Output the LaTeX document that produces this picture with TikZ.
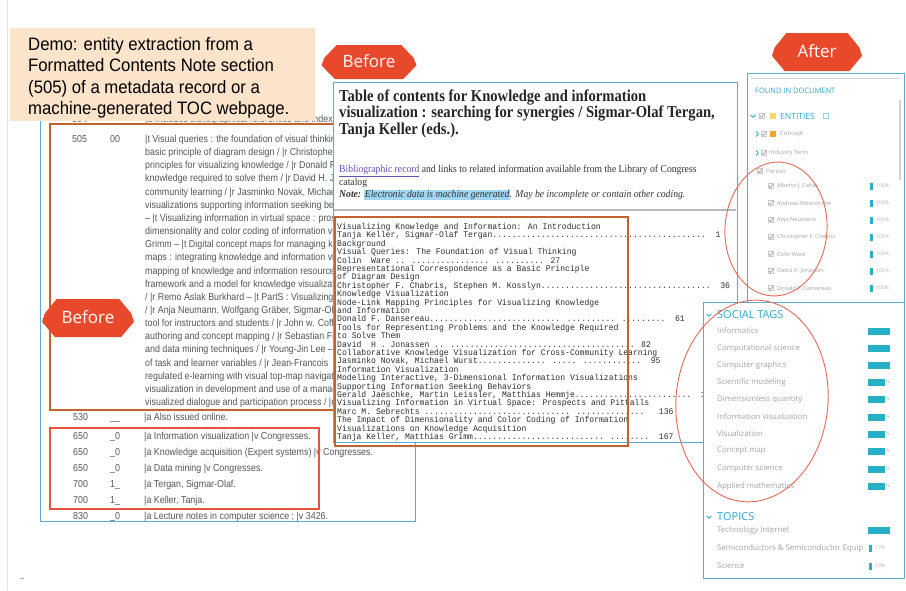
\documentclass[tikz,border=0pt]{standalone}
\usepackage{fontspec}
\usepackage{graphicx}
\setmainfont{Liberation Sans}
\newfontfamily\serifweb{Liberation Serif}
\newfontfamily\monoweb{Liberation Mono}
\newfontfamily\uifont{Open Sans}

\definecolor{frameblue}{HTML}{5AAADB}
\definecolor{boxorange}{HTML}{C8622C}
\definecolor{boxred}{HTML}{E8533F}
\definecolor{ringred}{HTML}{E8675A}
\definecolor{badgefill}{HTML}{E9492B}
\definecolor{notetan}{HTML}{FCE4CB}
\definecolor{marcgray}{HTML}{555555}
\definecolor{hilite}{HTML}{9ED6F2}
\definecolor{linkpurple}{HTML}{6A4DB8}
\definecolor{uiblue}{HTML}{2DA7CF}
\definecolor{uigray}{HTML}{A3A3A3}
\definecolor{barteal}{HTML}{27AFC6}
\definecolor{entyellow}{HTML}{F8D56A}
\definecolor{entorange}{HTML}{F3A22E}

% screenshot text is slightly condensed
\newcommand\narrow[1]{\scalebox{0.88}[1]{#1}}
\newcommand\narrowweb[1]{\scalebox{0.92}[1]{#1}}
\newcommand\narrowmono[1]{\scalebox{0.94}[1]{#1}}
\ExplSyntaxOn
\cs_new:Npn \dotrun #1 { \prg_replicate:nn {#1} {.} }
\ExplSyntaxOff

\begin{document}
\begin{tikzpicture}[x=1pt,y=-1pt,
  marctext/.style={anchor=base west, inner sep=0pt, text=marcgray, font=\fontsize{10.1}{12}\selectfont},
  ttltext/.style={anchor=base west, inner sep=0pt, text=black!85, font=\serifweb\bfseries\fontsize{16.6}{18}\selectfont},
  webtext/.style={anchor=base west, inner sep=0pt, text=black!80, font=\serifweb\fontsize{10.5}{12}\selectfont},
  toctext/.style={anchor=base west, inner sep=0pt, text=black!82, font=\monoweb\fontsize{8.6}{9}\selectfont},
  notetext/.style={anchor=base west, inner sep=0pt, text=black, font=\fontsize{18}{20}\selectfont},
  uihead/.style={anchor=west, inner sep=0pt, text=uiblue, font=\uifont\fontsize{11}{12}\selectfont},
  uismall/.style={anchor=west, inner sep=0pt, text=uiblue, font=\uifont\fontsize{7.5}{9}\selectfont},
  uitag/.style={anchor=west, inner sep=0pt, text=uigray, font=\uifont\fontsize{7.8}{9}\selectfont},
  uiname/.style={anchor=west, inner sep=0pt, text=uigray, font=\uifont\fontsize{5.6}{6}\selectfont},
  uipct/.style={anchor=west, inner sep=0pt, text=uigray!85, font=\uifont\fontsize{5}{6}\selectfont},
  blueframe/.style={draw=frameblue, line width=1pt},
  tealbar/.style={fill=barteal},
  redring/.style={draw=ringred, line width=0.9pt},
  badgetext/.style={inner sep=0pt, text=white, font=\uifont\fontsize{17}{17}\selectfont},
  pics/badgebg/.style 2 args={code={
    \fill[badgefill] ({-0.34*#1},{-0.5*#2}) -- ({0.34*#1},{-0.5*#2}) -- ({0.47*#1},{-0.12*#2})
      -- ({0.5*#1},{0.1*#2}) -- ({0.36*#1},{0.5*#2}) -- ({-0.36*#1},{0.5*#2})
      -- ({-0.5*#1},{0.1*#2}) -- ({-0.47*#1},{-0.12*#2}) -- cycle;}},
  pics/chkbox/.style={code={
    \draw[uigray!60, line width=0.4pt] (-2.4,-2.4) rectangle (2.4,2.4);
    \draw[gray!80, line width=0.6pt] (-1.8,0) -- (-0.5,1.5) -- (2.3,-2.3);}},
  pics/chevdown/.style={code={\draw[uiblue, line width=0.8pt] (-2.5,-1.2) -- (0,1.3) -- (2.5,-1.2);}},
  pics/chevright/.style={code={\draw[uiblue, line width=0.8pt] (-1,-2.5) -- (1.4,0) -- (-1,2.5);}}
]
\useasboundingbox (0,0) rectangle (906,590);
\fill[white] (0,0) rectangle (906,590);
\draw[gray!22, line width=0.8pt] (7,0) -- (7,590);
\draw[gray!70, line width=0.6pt] (20,578) -- (24,578);

% ---------- MARC record ----------
\node[marctext] (tag504) at (72,122.5) {\narrow{504}};
\node[marctext] (txt504) at (145,122.5) {\narrow{|a Includes bibliographical references and index.}};
\node[marctext] (tag505) at (72,142.5) {\narrow{505}};
\node[marctext] (ind505) at (110,142.5) {\narrow{00}};
\foreach \txt [count=\i] in {
  {|t Visual queries : the foundation of visual thinking / |r Colin Ware},
  {basic principle of diagram design / |r Christopher F. Chabris},
  {principles for visualizing knowledge / |r Donald F. Dansereau},
  {knowledge required to solve them / |r David H. Jonassen},
  {community learning / |r Jasminko Novak, Michael Wurst},
  {visualizations supporting information seeking behaviors},
  {-- |t Visualizing information in virtual space : prospects},
  {dimensionality and color coding of information visualizations},
  {Grimm -- |t Digital concept maps for managing knowledge},
  {maps : integrating knowledge and information visualization},
  {mapping of knowledge and information resources},
  {framework and a model for knowledge visualization},
  {/ |r Remo Aslak Burkhard -- |t PartS : Visualizing ideas},
  {/ |r Anja Neumann, Wolfgang Gräber, Sigmar-Olaf},
  {tool for instructors and students / |r John w. Coffey},
  {authoring and concept mapping / |r Sebastian Fiedler},
  {and data mining techniques / |r Young-Jin Lee --},
  {of task and learner variables / |r Jean-Francois},
  {regulated e-learning with visual top-map navigation},
  {visualization in development and use of a management},
  {visualized dialogue and participation process / |r}}
  \node[marctext] (c\i) at (145,{142.5+13.15*(\i-1)}) {\narrow{\txt}};

\foreach \yy/\tg/\id/\tx [count=\i] in {
  {420.5/530/\_\_/|a Also issued online.},
  {439.5/650/\_0/|a Information visualization |v Congresses.},
  {455.5/650/\_0/|a Knowledge acquisition (Expert systems) |v Congresses.},
  {471/650/\_0/|a Data mining |v Congresses.},
  {487/700/1\_/|a Tergan, Sigmar-Olaf.},
  {503.5/700/1\_/|a Keller, Tanja.},
  {519.5/830/\_0/|a Lecture notes in computer science ; |v 3426.}}
{
  \node[marctext] (rt\i) at (73,\yy) {\narrow{\tg}};
  \node[marctext] (ri\i) at (110,\yy) {\narrow{\id}};
  \node[marctext] (rx\i) at (144,\yy) {\narrow{\tx}};
}

\draw[boxred, line width=1.1pt] (50,428) rectangle (319,509);
\draw[boxorange, line width=1.6pt] (50,124) rectangle (400,410);
\draw[blueframe] (40,112) -- (40,521) -- (415,521) -- (415,300);

% ---------- table of contents web page ----------
\draw[blueframe, fill=white] (333,82) rectangle (737,442);
\node[ttltext] (ttl1) at (339,101) {\narrow{Table of contents for Knowledge and information}};
\node[ttltext] (ttl2) at (339,117.5) {\narrow{visualization : searching for synergies / Sigmar-Olaf Tergan,}};
\node[ttltext] (ttl3) at (339,134) {\narrow{Tanja Keller (eds.).}};
\node[webtext] (bib) at (339,172.5) {\narrowweb{\textcolor{linkpurple}{\underline{Bibliographic record}} and links to related information available from the Library of Congress}};
\node[webtext] (cat) at (339,185) {\narrowweb{catalog}};
\node[webtext] (nte) at (339,197.5) {\narrowweb{\textbf{\textit{Note:}} {\setlength{\fboxsep}{0.5pt}\colorbox{hilite}{\textit{Electronic data is machine generated}}}\textit{. May be incomplete or contain other coding.}}};
\draw[gray!55, line width=1.3pt] (334,210) -- (736,210);

\foreach \txt [count=\i] in {
  {Visualizing Knowledge and Information: An Introduction},
  {Tanja Keller, Sigmar-Olaf Tergan\dotrun{44}~~1},
  {Background},
  {Visual Queries: The Foundation of Visual Thinking},
  {Colin~~Ware .. \dotrun{16} \dotrun{10} 27},
  {Representational Correspondence as a Basic Principle},
  {of Diagram Design},
  {Christopher F. Chabris, Stephen M. Kosslyn\dotrun{35}~~36},
  {Knowledge Visualization},
  {Node-Link Mapping Principles for Visualizing Knowledge},
  {and Information},
  {Donald F. Dansereau\dotrun{27} \dotrun{10} \dotrun{9}~~61},
  {Tools for Representing Problems and the Knowledge Required},
  {to Solve Them},
  {David~~H . Jonassen .. \dotrun{38} 82},
  {Collaborative Knowledge Visualization for Cross-Community Learning},
  {Jasminko Novak, Michael Wurst\dotrun{14} \dotrun{5} \dotrun{12}~~95},
  {Information Visualization},
  {Modeling Interactive, 3-Dimensional Information Visualizations},
  {Supporting Information Seeking Behaviors},
  {Gerald Jaeschke, Martin Leissler, Matthias Hemmje\dotrun{24}~~113},
  {Visualizing Information in Virtual Space: Prospects and Pitfalls},
  {Marc M. Sebrechts \dotrun{30} \dotrun{14}~~~136},
  {The Impact of Dimensionality and Color Coding of Information},
  {Visualizations on Knowledge Acquisition},
  {Tanja Keller, Matthias Grimm\dotrun{27} \dotrun{8}~~167}}
  \node[toctext] (l\i) at (337,{229.5+8.4*(\i-1)}) {\narrowmono{\txt}};
\draw[boxorange, line width=1.6pt] (335,217) rectangle (628,446);

% ---------- found in document panel ----------
\draw[blueframe, fill=white] (747,73) rectangle (904,310);
\draw[gray!30, line width=0.8pt] (751,78) -- (900,78);
\fill[gray!35] (898.5,100) rectangle (901,180);
\node[uismall] (found) at (755,91) {FOUND IN DOCUMENT};
\pic at (753,116) {chevdown};
\pic at (762,116) {chkbox};
\fill[entyellow] (769.5,113) rectangle (775.5,119);
\node[uismall, font=\uifont\fontsize{8.5}{9}\selectfont] (ent) at (780,116) {ENTITIES};
\draw[uiblue!50, line width=0.5pt] (823,113.5) rectangle (828,118.5);
\pic at (757,134) {chevright};
\pic at (764,134) {chkbox};
\fill[entorange] (770,131) rectangle (776,137);
\node[uiname, font=\uifont\fontsize{6}{7}\selectfont] (concept) at (780,134) {Concept};
\pic at (757,153) {chevright};
\pic at (764,153) {chkbox};
\node[uiname, font=\uifont\fontsize{6}{7}\selectfont] (industry) at (769,153) {Industry Term};
\pic at (760,171) {chkbox};
\node[uiname, font=\uifont\fontsize{6}{7}\selectfont] (person) at (766,171) {Person};
\foreach \yy/\nm [count=\i] in {186/Alberto J. Cañas, 203/Andreas Rittershofer, 220/Anja Neumann,
    237/Christopher F. Chabris, 254/Colin Ware, 271/David H. Jonassen, 288/Donald F. Dansereau}
{
  \pic at (771,\yy) {chkbox};
  \node[uiname] (p\i) at (777,\yy) {\nm};
  \fill[tealbar] (870,\yy-3.5) rectangle (873,\yy+3.5);
  \node[uipct] (pp\i) at (876,\yy) {100\%};
}

% ---------- social tags and topics panel ----------
\draw[blueframe, fill=white] (703,302) rectangle (904,578);
\pic at (709,315) {chevdown};
\node[uihead] (social) at (717,315) {SOCIAL TAGS};
\foreach \yy/\tg/\bw [count=\i] in {331/Informatics/22, 348/Computational science/22,
    365/Computer graphics/22, 382/Scientific modeling/17, 399/Dimensionless quantity/17,
    417/Information visualization/17, 434/Visualization/17, 451/Concept map/17,
    469/Computer science/17, 486/Applied mathematics/17}
{
  \node[uitag] (s\i) at (717,\yy) {\tg};
  \fill[tealbar] (868,\yy-3.5) rectangle (868+\bw,\yy+3.5);
}
\foreach \yy [count=\i] in {382,399,417,434,451,469,486}
  \node[uipct] (sp\i) at (885.5,\yy) {\%};
\pic at (709,517) {chevdown};
\node[uihead] (topics) at (717,517) {TOPICS};
\node[uitag] (t1) at (717,530) {Technology Internet};
\fill[tealbar] (868,526.5) rectangle (890,533.5);
\node[uitag] (t2) at (717,548) {Semiconductors \& Semiconductor Equip};
\fill[tealbar] (869,544.5) rectangle (871.5,551.5);
\node[uipct] (tp2) at (875,548) {17\%};
\node[uitag] (t3) at (717,566) {Science};
\fill[tealbar] (869,562.5) rectangle (871.5,569.5);
\node[uipct] (tp3) at (875,566) {13\%};

% ---------- highlight rings ----------
\draw[redring, rotate around={-4:(776,229)}] (776,229) ellipse [x radius=51, y radius=67];
\draw[redring, rotate around={-5:(752,401)}] (752,401) ellipse [x radius=76, y radius=101];

% ---------- badges ----------
\pic at (88,318) {badgebg={92}{38}};
\node[badgetext] (before1) at (88,317) {Before};
\pic at (369,62) {badgebg={95}{34}};
\node[badgetext] (before2) at (369,61) {Before};
\pic at (817,52) {badgebg={90}{38}};
\node[badgetext] (after) at (817,51) {After};

% ---------- caption box ----------
\fill[notetan] (10,28) rectangle (315,121);
\node[notetext] (cap1) at (28,50) {\scalebox{0.93}[1]{Demo: entity extraction from a}};
\node[notetext] (cap2) at (28,71.5) {\scalebox{0.93}[1]{Formatted Contents Note section}};
\node[notetext] (cap3) at (28,93) {\scalebox{0.93}[1]{(505) of a metadata record or a}};
\node[notetext] (cap4) at (28,114.5) {\scalebox{0.93}[1]{machine-generated TOC webpage.}};
\end{tikzpicture}
\end{document}
